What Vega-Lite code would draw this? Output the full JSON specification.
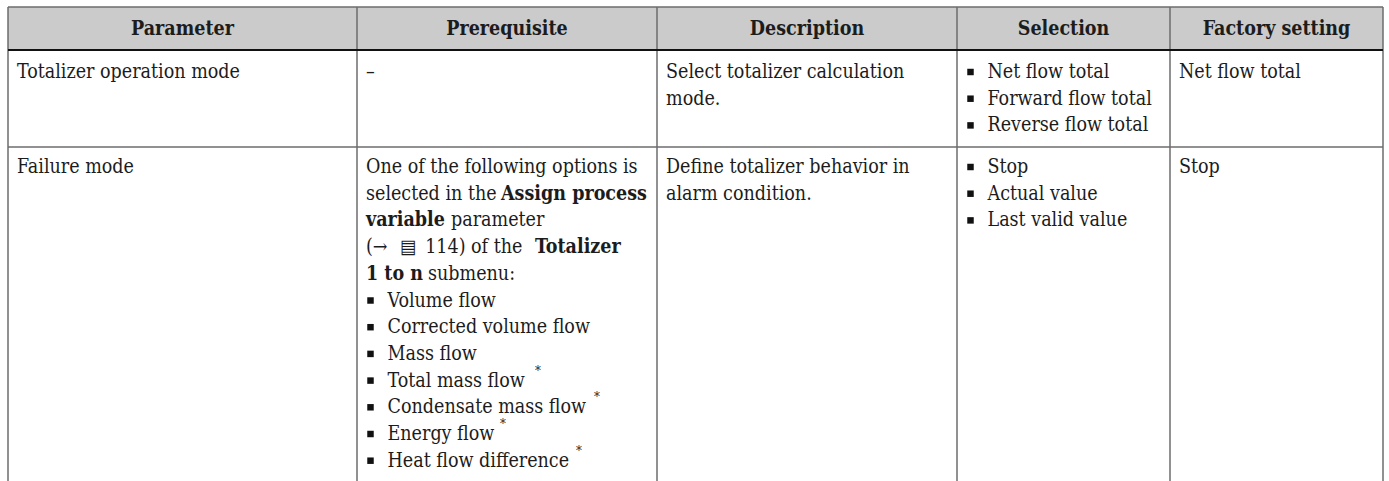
{
  "$schema": "https://vega.github.io/schema/vega-lite/v6.json",
  "width": 1389,
  "height": 481,
  "padding": 0,
  "autosize": "none",
  "background": "white",
  "config": {
    "view": {"stroke": null},
    "text": {"font": "DejaVu Serif Condensed", "fontSize": 19.5, "baseline": "middle", "align": "left", "color": "#1c1c1c"}
  },
  "datasets": {
    "headerBg": [{"c": 0, "c2": 5, "ln": -0.5, "ln2": 0.5}],
    "vlines": [
      {"c": 0, "ln": -0.5, "ln2": 16},
      {"c": 1, "ln": -0.5, "ln2": 16},
      {"c": 2, "ln": -0.5, "ln2": 16},
      {"c": 3, "ln": -0.5, "ln2": 16},
      {"c": 4, "ln": -0.5, "ln2": 16},
      {"c": 5, "ln": -0.5, "ln2": 16}
    ],
    "hlines": [
      {"c": 0, "c2": 5, "ln": -0.5},
      {"c": 0, "c2": 5, "ln": 3.5}
    ],
    "headSep": [{"c": 0, "c2": 5, "ln": 0.5}],
    "header": [
      {"c": 0, "ln": 0, "t": "Parameter"},
      {"c": 1, "ln": 0, "t": "Prerequisite"},
      {"c": 2, "ln": 0, "t": "Description"},
      {"c": 3, "ln": 0, "t": "Selection"},
      {"c": 4, "ln": 0, "t": "Factory setting"}
    ],
    "plain": [
      {"c": 0, "ln": 1, "t": "Totalizer operation mode"},
      {"c": 1, "ln": 1, "t": "–"},
      {"c": 2, "ln": 1, "t": "Select totalizer calculation"},
      {"c": 2, "ln": 2, "t": "mode."},
      {"c": 4, "ln": 1, "t": "Net flow total"},
      {"c": 0, "ln": 4, "t": "Failure mode"},
      {"c": 1, "ln": 4, "t": "One of the following options is"},
      {"c": 1, "ln": 5, "t": "selected in the"},
      {"c": 1, "ln": 7, "t": "(→\u2002\u2009▤\u2002114) of the"},
      {"c": 2, "ln": 4, "t": "Define totalizer behavior in"},
      {"c": 2, "ln": 5, "t": "alarm condition."},
      {"c": 4, "ln": 4, "t": "Stop"}
    ],
    "boldStart": [
      {"c": 1, "ln": 6, "t": "variable"},
      {"c": 1, "ln": 8, "t": "1 to n"}
    ],
    "segs": [
      {"c": 1, "ln": 5, "t": "Assign process"},
      {"c": 1, "ln": 6, "t": "parameter"},
      {"c": 1, "ln": 7, "t": "Totalizer"},
      {"c": 1, "ln": 8, "t": "submenu:"}
    ],
    "bullets": [
      {"c": 3, "ln": 1, "t": "Net flow total"},
      {"c": 3, "ln": 2, "t": "Forward flow total"},
      {"c": 3, "ln": 3, "t": "Reverse flow total"},
      {"c": 3, "ln": 4, "t": "Stop"},
      {"c": 3, "ln": 5, "t": "Actual value"},
      {"c": 3, "ln": 6, "t": "Last valid value"},
      {"c": 1, "ln": 9, "t": "Volume flow"},
      {"c": 1, "ln": 10, "t": "Corrected volume flow"},
      {"c": 1, "ln": 11, "t": "Mass flow"},
      {"c": 1, "ln": 12, "t": "Total mass flow"},
      {"c": 1, "ln": 13, "t": "Condensate mass flow"},
      {"c": 1, "ln": 14, "t": "Energy flow"},
      {"c": 1, "ln": 15, "t": "Heat flow difference"}
    ],
    "stars": [
      {"c": 1, "ln": 12, "t": "*"},
      {"c": 1, "ln": 13, "t": "*"},
      {"c": 1, "ln": 14, "t": "*"},
      {"c": 1, "ln": 15, "t": "*"}
    ]
  },
  "encoding": {
    "x": {"field": "c", "type": "quantitative", "axis": null,
          "scale": {"domain": [0, 1, 2, 3, 4, 5], "range": [8, 357, 657, 957, 1170, 1383], "nice": false, "zero": false}},
    "y": {"field": "ln", "type": "quantitative", "axis": null,
          "scale": {"domain": [-0.5, 0, 0.5, 1, 3, 3.5, 4, 15], "range": [7, 28.5, 50, 72, 125.4, 147, 167, 460.7], "nice": false, "zero": false}}
  },
  "resolve": {"scale": {"x": "independent"}},
  "layer": [
    {
      "data": {"name": "headerBg"},
      "mark": {"type": "rect", "fill": "#cbcbcb"},
      "encoding": {"x2": {"field": "c2"}, "y2": {"field": "ln2"}}
    },
    {
      "data": {"name": "vlines"},
      "mark": {"type": "rule", "color": "#6d6d6d", "strokeWidth": 1.5},
      "encoding": {"y2": {"field": "ln2"}}
    },
    {
      "data": {"name": "hlines"},
      "mark": {"type": "rule", "color": "#6d6d6d", "strokeWidth": 1.5},
      "encoding": {"x2": {"field": "c2"}}
    },
    {
      "data": {"name": "headSep"},
      "mark": {"type": "rule", "color": "#111111", "strokeWidth": 2},
      "encoding": {"x2": {"field": "c2"}}
    },
    {
      "data": {"name": "header"},
      "mark": {"type": "text", "align": "center", "fontWeight": 600},
      "encoding": {
        "x": {"field": "c", "type": "quantitative", "axis": null,
              "scale": {"domain": [0, 1, 2, 3, 4], "range": [182.5, 507, 807, 1063.5, 1276.5], "nice": false, "zero": false}},
        "text": {"field": "t"}
      }
    },
    {
      "data": {"name": "plain"},
      "mark": {"type": "text", "dx": 9},
      "encoding": {"text": {"field": "t"}}
    },
    {
      "data": {"name": "boldStart"},
      "mark": {"type": "text", "dx": 9, "fontWeight": "bold"},
      "encoding": {"text": {"field": "t"}}
    },
    {
      "data": {"name": "segs"},
      "transform": [{"filter": "datum.ln == 5"}],
      "mark": {"type": "text", "dx": 144, "fontWeight": "bold"},
      "encoding": {"text": {"field": "t"}}
    },
    {
      "data": {"name": "segs"},
      "transform": [{"filter": "datum.ln == 6"}],
      "mark": {"type": "text", "dx": 94},
      "encoding": {"text": {"field": "t"}}
    },
    {
      "data": {"name": "segs"},
      "transform": [{"filter": "datum.ln == 7"}],
      "mark": {"type": "text", "dx": 178, "fontWeight": "bold"},
      "encoding": {"text": {"field": "t"}}
    },
    {
      "data": {"name": "segs"},
      "transform": [{"filter": "datum.ln == 8"}],
      "mark": {"type": "text", "dx": 71},
      "encoding": {"text": {"field": "t"}}
    },
    {
      "data": {"name": "bullets"},
      "mark": {"type": "square", "filled": true, "size": 42, "xOffset": 13.5, "color": "#111111", "opacity": 1},
      "encoding": {}
    },
    {
      "data": {"name": "bullets"},
      "mark": {"type": "text", "dx": 30.5},
      "encoding": {"text": {"field": "t"}}
    },
    {
      "data": {"name": "stars"},
      "transform": [{"filter": "datum.ln == 12"}],
      "mark": {"type": "text", "dx": 178, "dy": -10, "fontSize": 13, "color": "#1c1c1c"},
      "encoding": {"text": {"field": "t"}}
    },
    {
      "data": {"name": "stars"},
      "transform": [{"filter": "datum.ln == 13"}],
      "mark": {"type": "text", "dx": 237, "dy": -10, "fontSize": 13, "color": "#1c1c1c"},
      "encoding": {"text": {"field": "t"}}
    },
    {
      "data": {"name": "stars"},
      "transform": [{"filter": "datum.ln == 14"}],
      "mark": {"type": "text", "dx": 143, "dy": -10, "fontSize": 13, "color": "#1c1c1c"},
      "encoding": {"text": {"field": "t"}}
    },
    {
      "data": {"name": "stars"},
      "transform": [{"filter": "datum.ln == 15"}],
      "mark": {"type": "text", "dx": 219, "dy": -10, "fontSize": 13, "color": "#1c1c1c"},
      "encoding": {"text": {"field": "t"}}
    }
  ]
}
